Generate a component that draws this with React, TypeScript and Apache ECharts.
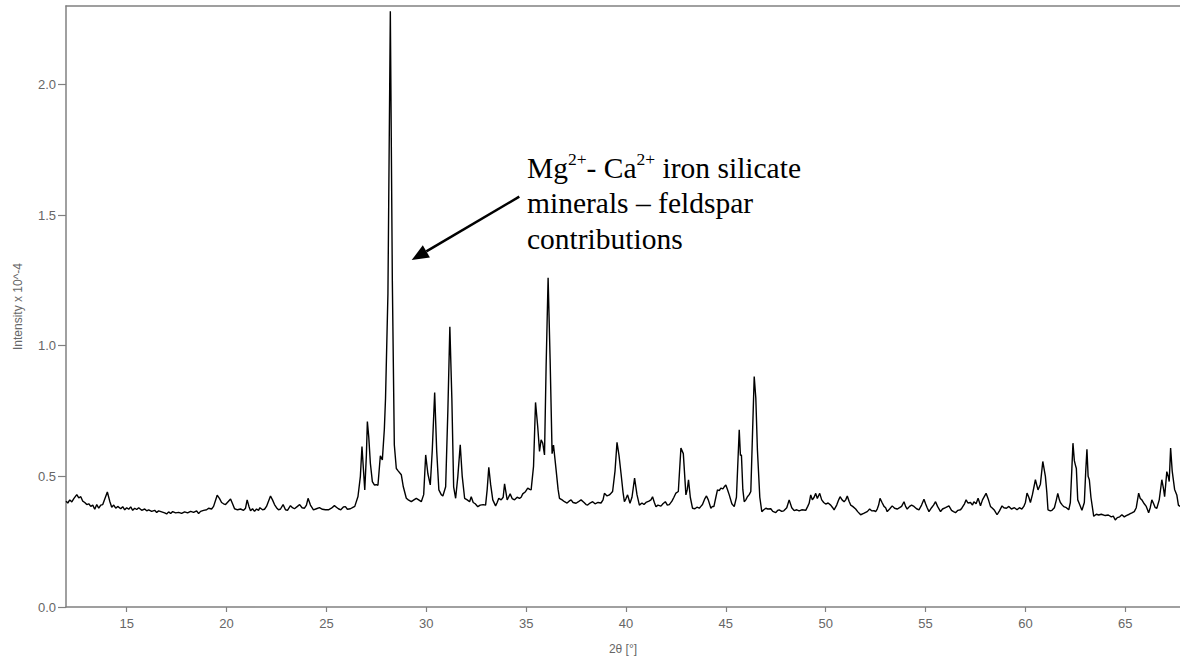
import React, { useEffect, useRef } from "react";
import * as echarts from "echarts";

// XRD pattern, [2θ (°), intensity ×10^-4]
const lowAngle: [number, number][] = [
  [11.96, 0.405], [12.05, 0.398], [12.15, 0.41], [12.25, 0.402], [12.35, 0.415], [12.5, 0.43], [12.6, 0.418], [12.7, 0.422],
  [12.8, 0.405], [12.9, 0.4], [13.0, 0.392], [13.1, 0.395], [13.2, 0.385], [13.3, 0.39], [13.4, 0.374], [13.5, 0.392],
  [13.6, 0.378], [13.7, 0.39], [13.8, 0.392], [14.03, 0.44], [14.15, 0.405], [14.25, 0.382], [14.35, 0.39], [14.45, 0.378],
  [14.55, 0.385], [14.7, 0.376], [14.8, 0.384], [14.9, 0.372], [15.0, 0.38], [15.1, 0.374], [15.2, 0.383], [15.3, 0.37],
  [15.4, 0.378], [15.5, 0.373], [15.6, 0.38], [15.75, 0.37], [15.9, 0.375], [16.0, 0.368], [16.1, 0.372], [16.25, 0.366],
  [16.4, 0.37], [16.5, 0.362], [16.6, 0.368], [16.75, 0.364], [16.9, 0.36], [17.0, 0.356], [17.1, 0.364], [17.2, 0.358],
  [17.3, 0.365], [17.45, 0.36], [17.6, 0.362], [17.75, 0.358], [17.9, 0.364], [18.05, 0.36], [18.2, 0.366], [18.35, 0.362],
  [18.5, 0.368], [18.6, 0.358], [18.7, 0.366], [18.85, 0.37], [19.0, 0.372], [19.1, 0.378], [19.25, 0.375], [19.35, 0.385],
  [19.53, 0.428], [19.65, 0.415], [19.75, 0.4], [19.85, 0.395], [19.95, 0.392], [20.2, 0.413], [20.3, 0.395], [20.4, 0.376],
  [20.55, 0.372], [20.7, 0.375], [20.85, 0.37], [20.95, 0.378], [21.03, 0.41], [21.12, 0.385], [21.2, 0.368], [21.3, 0.376],
  [21.4, 0.366], [21.5, 0.375], [21.6, 0.37], [21.67, 0.38], [21.8, 0.372], [21.9, 0.374], [22.0, 0.385], [22.1, 0.405],
  [22.2, 0.425], [22.3, 0.41], [22.4, 0.392], [22.5, 0.38], [22.6, 0.372], [22.7, 0.375], [22.83, 0.392], [22.95, 0.372],
  [23.05, 0.37], [23.2, 0.388], [23.3, 0.38], [23.4, 0.376], [23.55, 0.385], [23.66, 0.392], [23.78, 0.38], [23.9, 0.378],
  [24.0, 0.39], [24.08, 0.416], [24.2, 0.39], [24.35, 0.372], [24.5, 0.376], [24.65, 0.38], [24.8, 0.374], [24.95, 0.372],
  [25.1, 0.372], [25.25, 0.378], [25.4, 0.388], [25.5, 0.382], [25.6, 0.376], [25.72, 0.372], [25.85, 0.383], [25.95, 0.384],
  [26.05, 0.374], [26.2, 0.376], [26.3, 0.38], [26.42, 0.385],
];

const mainPeaks: [number, number][] = [
  [26.58, 0.423], [26.7, 0.5], [26.78, 0.614], [26.85, 0.53], [26.92, 0.448], [27.0, 0.58], [27.05, 0.71], [27.12, 0.65],
  [27.2, 0.55], [27.3, 0.48], [27.4, 0.467], [27.5, 0.468], [27.58, 0.466], [27.7, 0.579], [27.8, 0.563], [27.9, 0.68],
  [27.96, 0.8], [28.08, 1.2], [28.2, 2.28], [28.3, 1.25], [28.4, 0.62], [28.5, 0.53], [28.6, 0.52], [28.75, 0.506],
  [28.85, 0.46], [29.0, 0.416], [29.1, 0.41], [29.25, 0.403], [29.38, 0.41], [29.5, 0.416], [29.62, 0.41], [29.75, 0.403],
  [29.87, 0.43], [29.97, 0.582], [30.08, 0.51], [30.2, 0.467], [30.3, 0.6], [30.42, 0.821], [30.52, 0.6], [30.63, 0.448],
  [30.75, 0.43], [30.83, 0.425], [30.97, 0.46], [31.08, 0.75], [31.18, 1.072], [31.28, 0.8], [31.37, 0.46], [31.47, 0.416],
  [31.58, 0.5], [31.7, 0.621], [31.8, 0.5], [31.92, 0.416], [32.05, 0.41], [32.17, 0.403], [32.25, 0.422], [32.35, 0.4],
  [32.45, 0.395], [32.58, 0.384], [32.7, 0.39], [32.85, 0.392], [32.97, 0.39], [33.05, 0.45], [33.13, 0.535], [33.22, 0.47],
  [33.33, 0.41], [33.47, 0.387], [33.55, 0.4], [33.63, 0.416], [33.75, 0.41], [33.85, 0.42], [33.92, 0.471], [34.05, 0.41],
  [34.12, 0.42], [34.2, 0.433], [34.3, 0.415], [34.42, 0.41], [34.55, 0.42], [34.67, 0.416], [34.75, 0.42], [34.83, 0.433],
  [34.95, 0.44], [35.08, 0.455], [35.18, 0.45], [35.25, 0.448], [35.37, 0.538], [35.47, 0.783], [35.58, 0.69], [35.67, 0.595],
  [35.75, 0.64], [35.83, 0.627], [35.92, 0.582], [36.0, 0.92], [36.1, 1.26], [36.2, 0.95], [36.3, 0.587], [36.37, 0.62],
  [36.5, 0.525], [36.6, 0.45], [36.67, 0.416],
];

const midAngle: [number, number][] = [
  [36.8, 0.41], [36.92, 0.403], [37.05, 0.398], [37.15, 0.405], [37.25, 0.41], [37.35, 0.4], [37.5, 0.397], [37.6, 0.402],
  [37.75, 0.41], [37.9, 0.4], [38.0, 0.392], [38.08, 0.39], [38.2, 0.398], [38.33, 0.403], [38.45, 0.395], [38.6, 0.4],
  [38.75, 0.398], [38.85, 0.41], [38.92, 0.435], [39.05, 0.425], [39.17, 0.429], [39.25, 0.435], [39.33, 0.442], [39.45, 0.52],
  [39.55, 0.63], [39.65, 0.58], [39.75, 0.512], [39.85, 0.44], [39.92, 0.403], [40.0, 0.415], [40.08, 0.429], [40.2, 0.397],
  [40.3, 0.42], [40.43, 0.493], [40.55, 0.43], [40.67, 0.39], [40.8, 0.398], [40.9, 0.392], [41.0, 0.4], [41.15, 0.405],
  [41.25, 0.41], [41.33, 0.422], [41.42, 0.4], [41.5, 0.384], [41.6, 0.39], [41.75, 0.386], [41.85, 0.395], [41.97, 0.403],
  [42.07, 0.39], [42.17, 0.392], [42.3, 0.405], [42.4, 0.42], [42.5, 0.436], [42.62, 0.442], [42.75, 0.608], [42.87, 0.587],
  [43.0, 0.429], [43.07, 0.45], [43.13, 0.487], [43.22, 0.42], [43.33, 0.378], [43.45, 0.376], [43.55, 0.382], [43.67, 0.378],
  [43.75, 0.385], [43.83, 0.392], [43.95, 0.415], [44.03, 0.425], [44.12, 0.41], [44.25, 0.378], [44.33, 0.385], [44.4, 0.384],
  [44.5, 0.42], [44.58, 0.448], [44.67, 0.445], [44.75, 0.455], [44.85, 0.452], [44.92, 0.46], [45.0, 0.467], [45.08, 0.45],
  [45.17, 0.429], [45.3, 0.395], [45.42, 0.384], [45.53, 0.42], [45.67, 0.678], [45.73, 0.58], [45.78, 0.582], [45.85, 0.45],
  [45.92, 0.403], [46.0, 0.41], [46.08, 0.422], [46.17, 0.43], [46.25, 0.442], [46.33, 0.65], [46.42, 0.882], [46.5, 0.8],
  [46.58, 0.602], [46.7, 0.42], [46.8, 0.365], [46.9, 0.372], [47.0, 0.378], [47.1, 0.375], [47.25, 0.376], [47.35, 0.366],
  [47.5, 0.361], [47.6, 0.37], [47.67, 0.372], [47.8, 0.366], [47.9, 0.368], [48.05, 0.38], [48.17, 0.41], [48.3, 0.38],
  [48.42, 0.369], [48.55, 0.372], [48.67, 0.368], [48.8, 0.372], [49.0, 0.37], [49.1, 0.385], [49.17, 0.397], [49.25, 0.429],
  [49.33, 0.41], [49.42, 0.42], [49.5, 0.435], [49.58, 0.415], [49.7, 0.435], [49.8, 0.41], [49.9, 0.4], [50.0, 0.394],
  [50.12, 0.398], [50.25, 0.39], [50.35, 0.38], [50.42, 0.372], [50.55, 0.39], [50.65, 0.41], [50.72, 0.422], [50.82, 0.41],
  [50.92, 0.403], [51.0, 0.41], [51.08, 0.425], [51.17, 0.405], [51.25, 0.39], [51.35, 0.385], [51.5, 0.375], [51.6, 0.365],
  [51.75, 0.353], [51.9, 0.358], [52.0, 0.362], [52.08, 0.365], [52.2, 0.375], [52.3, 0.368], [52.42, 0.369], [52.5, 0.365],
  [52.58, 0.375], [52.65, 0.39], [52.72, 0.416], [52.82, 0.4], [52.92, 0.385], [53.0, 0.38], [53.08, 0.365], [53.2, 0.375],
  [53.33, 0.387], [53.45, 0.378], [53.58, 0.375], [53.7, 0.38], [53.8, 0.385], [53.92, 0.403], [54.0, 0.385], [54.08, 0.375],
  [54.2, 0.385], [54.3, 0.39], [54.42, 0.385], [54.55, 0.376], [54.67, 0.372], [54.8, 0.39], [54.92, 0.412], [55.0, 0.395],
  [55.08, 0.38], [55.17, 0.365], [55.3, 0.38], [55.4, 0.39], [55.5, 0.403], [55.6, 0.385], [55.75, 0.365], [55.85, 0.375],
  [56.0, 0.38], [56.17, 0.387], [56.3, 0.37], [56.4, 0.365], [56.5, 0.361], [56.62, 0.37], [56.75, 0.372], [56.83, 0.38],
];

const highAngle: [number, number][] = [
  [56.95, 0.395], [57.03, 0.41], [57.12, 0.398], [57.25, 0.4], [57.35, 0.39], [57.42, 0.403], [57.53, 0.395], [57.63, 0.416],
  [57.7, 0.4], [57.75, 0.387], [57.85, 0.41], [58.03, 0.435], [58.15, 0.41], [58.25, 0.385], [58.35, 0.378], [58.45, 0.37],
  [58.58, 0.353], [58.7, 0.368], [58.83, 0.387], [58.92, 0.38], [59.05, 0.378], [59.17, 0.385], [59.3, 0.375], [59.45, 0.38],
  [59.58, 0.372], [59.7, 0.38], [59.82, 0.375], [59.92, 0.385], [60.0, 0.4], [60.08, 0.436], [60.17, 0.42], [60.25, 0.4],
  [60.35, 0.43], [60.5, 0.487], [60.63, 0.448], [60.75, 0.47], [60.87, 0.557], [61.0, 0.5], [61.07, 0.44], [61.13, 0.372],
  [61.25, 0.368], [61.33, 0.37], [61.45, 0.38], [61.55, 0.41], [61.62, 0.435], [61.7, 0.41], [61.75, 0.4], [61.85, 0.39],
  [61.92, 0.384], [62.05, 0.38], [62.17, 0.372], [62.25, 0.4], [62.32, 0.52], [62.38, 0.627], [62.45, 0.56], [62.5, 0.544],
  [62.55, 0.53], [62.62, 0.41], [62.7, 0.395], [62.83, 0.37], [62.95, 0.4], [63.02, 0.52], [63.08, 0.604], [63.14, 0.5],
  [63.2, 0.487], [63.28, 0.42], [63.42, 0.347], [63.55, 0.355], [63.67, 0.352], [63.8, 0.355], [64.0, 0.35], [64.15, 0.352],
  [64.3, 0.345], [64.4, 0.348], [64.5, 0.333], [64.6, 0.342], [64.72, 0.345], [64.83, 0.353], [64.95, 0.345], [65.05, 0.35],
  [65.2, 0.355], [65.33, 0.36], [65.45, 0.365], [65.55, 0.38], [65.67, 0.436], [65.75, 0.415], [65.83, 0.41], [65.95, 0.395],
  [66.05, 0.385], [66.17, 0.361], [66.25, 0.38], [66.33, 0.41], [66.42, 0.395], [66.5, 0.38], [66.58, 0.378], [66.7, 0.41],
  [66.83, 0.487], [66.92, 0.45], [66.97, 0.422], [67.08, 0.518], [67.15, 0.5], [67.2, 0.48], [67.27, 0.608], [67.35, 0.52],
  [67.47, 0.45], [67.58, 0.429], [67.66, 0.39], [67.74, 0.385],
];

const xTickValues = [15, 20, 25, 30, 35, 40, 45, 50, 55, 60, 65];
const yTickValues = [0, 0.5, 1.0, 1.5, 2.0];
const xAxisTitle = "2θ [°]";
const yAxisTitle = "Intensity x 10^-4";
const annotationLines = ["{n|Mg}{s|2+}{n|- Ca}{s|2+}{n| iron silicate}", "{n|minerals – feldspar}", "{n|contributions}"];

const SANS = "Arial, 'Liberation Sans', sans-serif";
const SERIF = "'Times New Roman', 'Liberation Serif', serif";
const AXIS_GRAY = "#808080";
const LABEL_GRAY = "#666666";

export default function App() {
  const ref = useRef<HTMLDivElement>(null);

  useEffect(() => {
    if (!ref.current) return;
    const chart = echarts.init(ref.current, undefined, { renderer: "svg" });
    const data = [...lowAngle, ...mainPeaks, ...midAngle, ...highAngle];

    // arrow geometry (pixel space)
    const tail = [519.3, 196.7];
    const tip = [411.7, 260];
    const dx = tip[0] - tail[0];
    const dy = tip[1] - tail[1];
    const len = Math.hypot(dx, dy);
    const ux = dx / len, uy = dy / len;
    const headLen = 17, headHalf = 7;
    const bx = tip[0] - ux * headLen, by = tip[1] - uy * headLen;
    const nx = -uy, ny = ux;

    chart.setOption({
      animation: false,
      backgroundColor: "#ffffff",
      grid: { left: 66, right: 0, top: 6, bottom: 54, containLabel: false },
      xAxis: [
        {
          type: "value",
          min: 11.96,
          max: 67.74,
          position: "bottom",
          name: xAxisTitle,
          nameLocation: "middle",
          nameGap: 36,
          nameTextStyle: { color: LABEL_GRAY, fontFamily: SANS, fontSize: 12 },
          axisLine: { show: true, lineStyle: { color: AXIS_GRAY, width: 1.5 } },
          axisTick: { show: true, length: 5, customValues: xTickValues, lineStyle: { color: AXIS_GRAY, width: 1.2 } },
          axisLabel: { customValues: xTickValues, color: LABEL_GRAY, fontFamily: SANS, fontSize: 13, margin: 10 },
          splitLine: { show: false },
        },
        {
          type: "value",
          min: 11.96,
          max: 67.74,
          position: "top",
          axisLine: { show: true, lineStyle: { color: AXIS_GRAY, width: 1.5 } },
          axisTick: { show: false },
          axisLabel: { show: false },
          splitLine: { show: false },
        },
      ],
      yAxis: {
        type: "value",
        min: 0,
        max: 2.3,
        name: yAxisTitle,
        nameLocation: "middle",
        nameGap: 42,
        nameTextStyle: { color: LABEL_GRAY, fontFamily: SANS, fontSize: 12 },
        axisLine: { show: true, lineStyle: { color: AXIS_GRAY, width: 1.5 } },
        axisTick: { show: true, length: 8, customValues: yTickValues, lineStyle: { color: AXIS_GRAY, width: 1.2 } },
        axisLabel: {
          customValues: yTickValues,
          color: LABEL_GRAY,
          fontFamily: SANS,
          fontSize: 13,
          margin: 10,
          formatter: (v: number) => v.toFixed(1),
        },
        splitLine: { show: false },
      },
      series: [
        {
          type: "line",
          xAxisIndex: 0,
          data,
          showSymbol: false,
          symbol: "none",
          silent: true,
          lineStyle: { color: "#000000", width: 1.4 },
        },
      ],
      graphic: [
        {
          type: "text",
          x: 527,
          y: 150,
          z: 10,
          style: {
            text: annotationLines.join("\n"),
            fill: "#000",
            rich: {
              n: { fontFamily: SERIF, fontSize: 29.5, lineHeight: 35.5, fill: "#000" },
              s: { fontFamily: SERIF, fontSize: 17.5, lineHeight: 19, verticalAlign: "top", fill: "#000" },
            },
          },
        },
        {
          type: "line",
          z: 10,
          shape: { x1: tail[0], y1: tail[1], x2: bx, y2: by },
          style: { stroke: "#000", lineWidth: 2.5 },
        },
        {
          type: "polygon",
          z: 10,
          shape: {
            points: [
              [tip[0], tip[1]],
              [bx + nx * headHalf, by + ny * headHalf],
              [bx - nx * headHalf, by - ny * headHalf],
            ],
          },
          style: { fill: "#000" },
        },
      ],
    });

    return () => chart.dispose();
  }, []);

  return (
    <div
      ref={ref}
      style={{ position: "absolute", left: 0, top: 0, width: 1180, height: 661, background: "#fff" }}
    />
  );
}
